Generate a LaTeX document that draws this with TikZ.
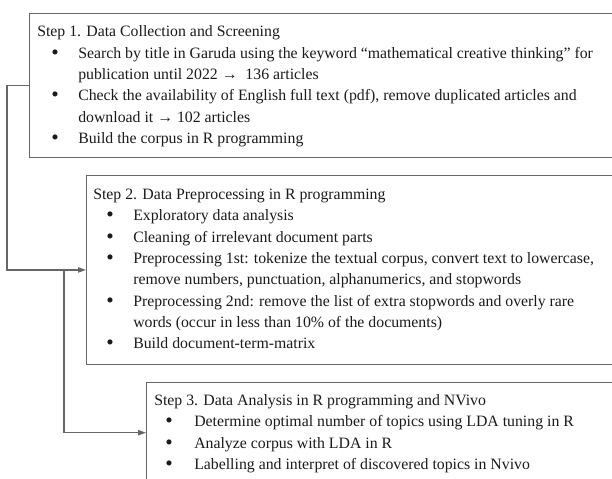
\documentclass[tikz,border=0pt]{standalone}
\usepackage{fontspec}
\setmainfont{Liberation Serif}
\usetikzlibrary{calc,arrows.meta}
\definecolor{edge}{HTML}{666666}
\definecolor{ink}{HTML}{1A1A1A}
\tikzset{
  stepbox/.style={draw=edge, line width=1.05pt, rectangle, anchor=north west, inner sep=0pt},
  txt/.style={anchor=base west, inner sep=0pt, text=ink, font=\fontsize{11.85}{14}\selectfont},
  dot/.style={anchor=base, inner sep=0pt, text=ink, font=\fontsize{16}{16}\selectfont},
  link/.style={draw=edge, line width=1pt, -{Triangle[length=6pt,width=4pt]}},
}
\newcommand{\bl}{\textbullet}
\begin{document}
\begin{tikzpicture}[x=0.75pt, y=-0.75pt]
\useasboundingbox (0,0) rectangle (612,479);
\clip (0,0) rectangle (612,479);

% the three step boxes run past the right edge
\node[stepbox, minimum width=660*0.75pt, minimum height=144*0.75pt] (box1) at (29,13) {};
\node[stepbox, minimum width=600*0.75pt, minimum height=189.5*0.75pt] (box2) at (86,174.5) {};
\node[stepbox, minimum width=540*0.75pt, minimum height=100*0.75pt] (box3) at (146,382) {};

% Step 1
\node[txt] (t1) at ($(box1.north west)+(8,23.5)$) {Step 1. Data Collection and Screening};
\node[dot] (b11) at ($(box1.north west)+(26,46)$) {\bl};
\node[txt] (t11) at ($(box1.north west)+(49,45)$) {Search by title in Garuda using the keyword “mathematical creative thinking” for};
\node[txt] (t12) at ($(box1.north west)+(49,66.4)$) {publication until 2022 →\ \ 136 articles};
\node[dot] (b12) at ($(box1.north west)+(26,88.8)$) {\bl};
\node[txt] (t13) at ($(box1.north west)+(49,87.8)$) {Check the availability of English full text (pdf), remove duplicated articles and};
\node[txt] (t14) at ($(box1.north west)+(49,109.2)$) {download it → 102 articles};
\node[dot] (b13) at ($(box1.north west)+(26,131.6)$) {\bl};
\node[txt] (t15) at ($(box1.north west)+(49,130.6)$) {Build the corpus in R programming};

% Step 2
\node[txt] (t2) at ($(box2.north west)+(7,25)$) {Step 2. Data Preprocessing in R programming};
\node[dot] (b21) at ($(box2.north west)+(24,47.3)$) {\bl};
\node[txt] (t21) at ($(box2.north west)+(47,46.3)$) {Exploratory data analysis};
\node[dot] (b22) at ($(box2.north west)+(24,68.6)$) {\bl};
\node[txt] (t22) at ($(box2.north west)+(47,67.6)$) {Cleaning of irrelevant document parts};
\node[dot] (b23) at ($(box2.north west)+(24,89.9)$) {\bl};
\node[txt] (t23) at ($(box2.north west)+(47,88.9)$) {Preprocessing 1st: tokenize the textual corpus, convert text to lowercase,};
\node[txt] (t24) at ($(box2.north west)+(47,110.2)$) {remove numbers, punctuation, alphanumerics, and stopwords};
\node[dot] (b24) at ($(box2.north west)+(24,132.5)$) {\bl};
\node[txt] (t25) at ($(box2.north west)+(47,131.5)$) {Preprocessing 2nd: remove the list of extra stopwords and overly rare};
\node[txt] (t26) at ($(box2.north west)+(47,152.8)$) {words (occur in less than 10\% of the documents)};
\node[dot] (b25) at ($(box2.north west)+(24,175.1)$) {\bl};
\node[txt] (t27) at ($(box2.north west)+(47,174.1)$) {Build document-term-matrix};

% Step 3
\node[txt] (t3) at ($(box3.north west)+(8,23.5)$) {Step 3. Data Analysis in R programming and NVivo};
\node[dot] (b31) at ($(box3.north west)+(23,45.8)$) {\bl};
\node[txt] (t31) at ($(box3.north west)+(48,44.8)$) {Determine optimal number of topics using LDA tuning in R};
\node[dot] (b32) at ($(box3.north west)+(23,67.1)$) {\bl};
\node[txt] (t32) at ($(box3.north west)+(48,66.1)$) {Analyze corpus with LDA in R};
\node[dot] (b33) at ($(box3.north west)+(23,88.4)$) {\bl};
\node[txt] (t33) at ($(box3.north west)+(48,87.4)$) {Labelling and interpret of discovered topics in Nvivo};

% connectors
\coordinate (j) at ($(box2.west)+(-22,0)$);
\draw[link] (box1.west) -- ++(-22,0) |- (box2.west);
\draw[link] (j) |- (box3.west);
\end{tikzpicture}
\end{document}
